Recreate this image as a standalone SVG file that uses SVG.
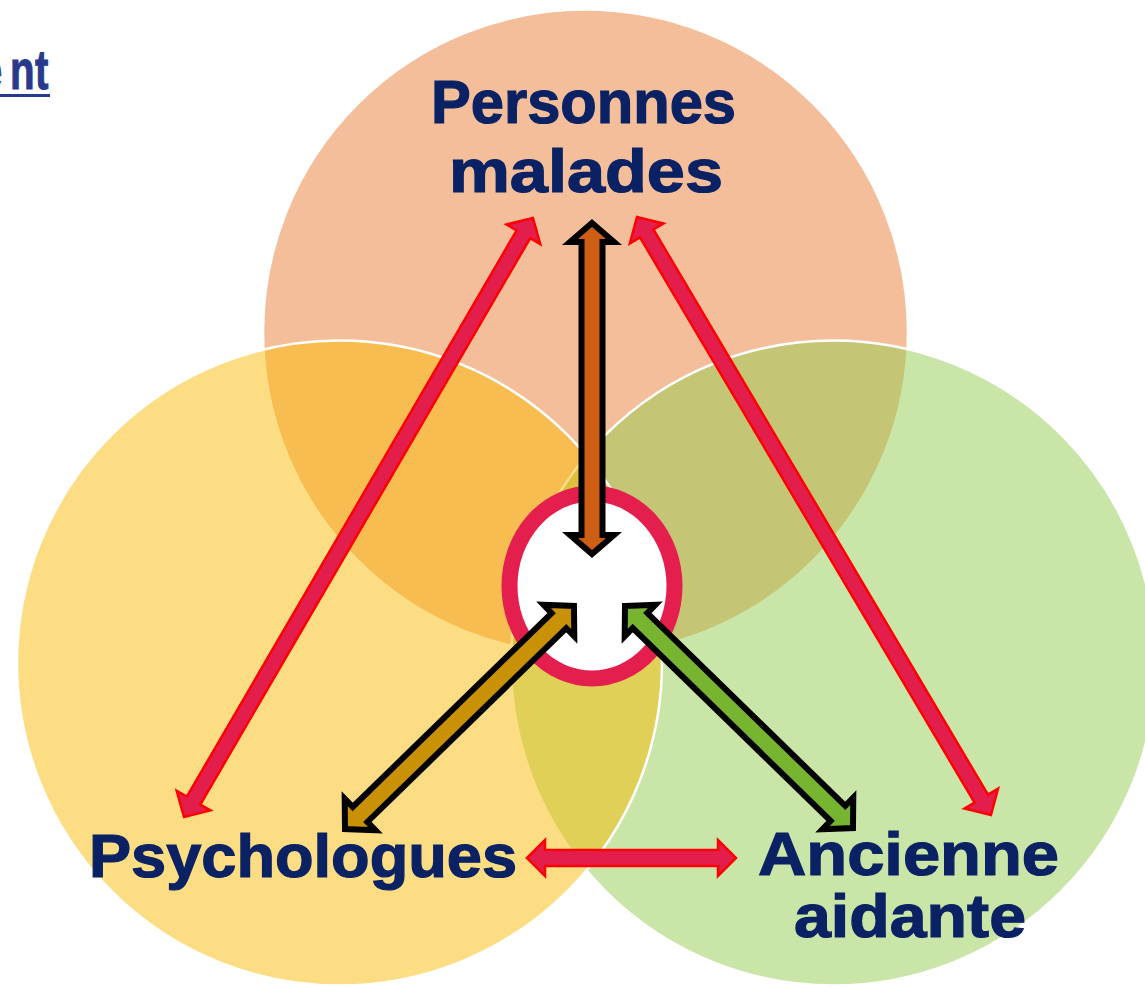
<svg xmlns="http://www.w3.org/2000/svg" width="1145" height="996" viewBox="0 0 1145 996">
<style>
  .circ { stroke: #FFFFFF; stroke-width: 2.5; }
  .lbl { font-family: "Liberation Sans", Arial, sans-serif; font-weight: bold; font-size: 61px; fill: #0A2263; stroke: #0A2263; stroke-width: 1.2; }
  .red { fill: #E41E4C; stroke: #FF0000; stroke-width: 2.5; stroke-linejoin: miter; stroke-miterlimit: 10; }
  .blk { stroke: #000000; stroke-width: 6; stroke-linejoin: miter; stroke-miterlimit: 10; }
  .title { font-family: "Liberation Sans", Arial, sans-serif; font-weight: bold; font-size: 56px; fill: #283A8C; stroke: #283A8C; stroke-width: 1; }
</style>
<rect x="0" y="0" width="1145" height="996" fill="#FFFFFF"/>

<g id="title-fragment">
  <text class="title" transform="translate(0 89) scale(0.72 1)"><tspan x="-28" y="0">e</tspan><tspan x="14" y="0">n</tspan><tspan x="48.6" y="0">t</tspan></text>
  <rect x="0" y="94" width="50" height="3" fill="#283A8C"/>
</g>

<g id="node-personnes-malades">
  <circle class="circ" cx="585.5" cy="332" r="322.5" fill="#F5BE9B"/>
  <text class="lbl" x="431" y="123" textLength="305" lengthAdjust="spacingAndGlyphs">Personnes</text>
  <text class="lbl" x="449" y="192" textLength="274" lengthAdjust="spacingAndGlyphs">malades</text>
</g>

<g id="node-ancienne-aidante">
  <circle class="circ" cx="833.5" cy="663" r="322.5" fill="rgba(147,203,79,0.5)"/>
  <text class="lbl" x="758" y="875" textLength="301" lengthAdjust="spacingAndGlyphs">Ancienne</text>
  <text class="lbl" x="794" y="937" textLength="232" lengthAdjust="spacingAndGlyphs">aidante</text>
</g>

<g id="node-psychologues">
  <circle class="circ" cx="339.5" cy="663" r="322.5" fill="rgba(250,187,8,0.5)"/>
  <text class="lbl" x="89" y="877" textLength="428" lengthAdjust="spacingAndGlyphs">Psychologues</text>
</g>

<g id="node-centre">
  <ellipse cx="592" cy="586" rx="82.5" ry="92.5" fill="#FFFFFF" stroke="#E41F4E" stroke-width="16"/>
</g>

<g id="connectors">
  <polygon class="red" transform="translate(184 817) rotate(-59.78)" points="0,0 19,-19.5 19,-7.8 674.3,-7.8 674.3,-19.5 693.3,0 674.3,19.5 674.3,7.8 19,7.8 19,19.5"/>
  <polygon class="red" transform="translate(637 217) rotate(59.38)" points="0,0 19,-19.5 19,-7.8 675.9,-7.8 675.9,-19.5 694.9,0 675.9,19.5 675.9,7.8 19,7.8 19,19.5"/>
  <polygon class="red" transform="translate(527 858)" points="0,0 18,-18 18,-8 191,-8 191,-18 209,0 191,18 191,8 18,8 18,18"/>
  <polygon class="blk" fill="#CF5E15" transform="translate(592 223) rotate(90)" points="0,0 19,-22 19,-10.5 312,-10.5 312,-22 331,0 312,22 312,10.5 19,10.5 19,22"/>
  <polygon class="blk" fill="#C99206" transform="translate(345 829.1) rotate(-44.26)" points="0,0 21,-22 21,-10.5 298.7,-10.5 298.7,-22 319.7,0 298.7,22 298.7,10.5 21,10.5 21,22"/>
  <polygon class="blk" fill="#77B42F" transform="translate(625 605.9) rotate(44.26)" points="0,0 21,-22 21,-10.5 297.3,-10.5 297.3,-22 318.3,0 297.3,22 297.3,10.5 21,10.5 21,22"/>
</g>
</svg>
